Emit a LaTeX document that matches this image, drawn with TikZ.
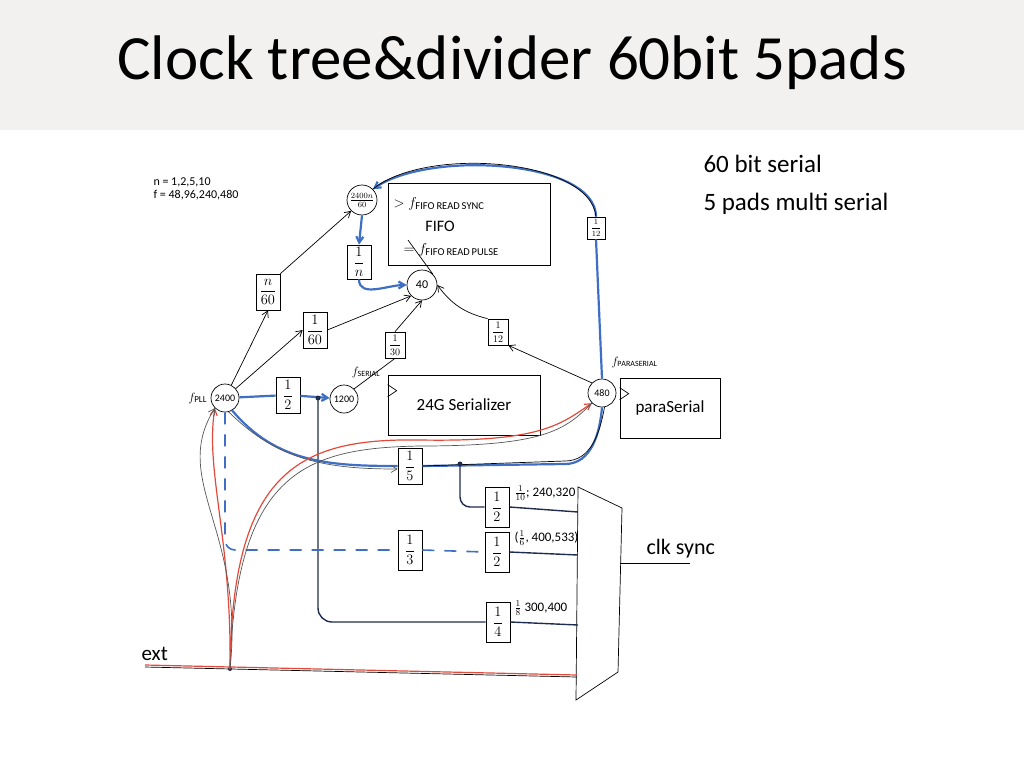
\documentclass[tikz,border=0pt]{standalone}
\usepackage{amsmath}
\usepackage{fontspec}
\setmainfont{Carlito}
\usepackage{tikz}
\usetikzlibrary{arrows.meta}
\definecolor{titlegray}{HTML}{F3F1EF}
\definecolor{penblue}{HTML}{3F6FC4}
\definecolor{penred}{HTML}{E2493B}
\definecolor{pennavy}{HTML}{1E2C50}
\definecolor{pengray}{HTML}{555555}

\begin{document}
\begin{tikzpicture}[x=1pt,y=-1pt,
    divbox/.style={draw,line width=0.7pt,inner sep=1pt,minimum width=24pt,minimum height=36pt,font=\fontsize{14}{15}\selectfont},
    smallbox/.style={divbox,minimum width=20pt,minimum height=26pt,font=\fontsize{10}{11}\selectfont},
    freq/.style={draw,circle,line width=0.7pt,inner sep=0pt,minimum size=28pt,font=\fontsize{10}{11}\selectfont},
    block/.style={draw,line width=0.7pt,font=\fontsize{17}{18}\selectfont},
    thin/.style={line width=0.7pt},
    tip/.style={-{Straight Barb[length=6pt,width=7pt]}},
    bluepen/.style={line width=2.2pt,penblue},
    navypen/.style={line width=1.4pt,pennavy},
    redpen/.style={line width=1.2pt,penred},
    graypen/.style={line width=0.7pt,pengray},
    note/.style={font=\fontsize{12}{13}\selectfont,align=left}]
  % background and title
  \fill[titlegray] (0,0) rectangle (1024,130);
  \useasboundingbox (0,0) rectangle (1024,768);
  \node[font=\fontsize{63}{70}\selectfont] (title) at (512,63) {Clock tree\&divider 60bit 5pads};

  % notes
  \node[note,anchor=north west] (params) at (150,174) {n = 1,2,5,10\\f = 48,96,240,480};
  \node[font=\fontsize{25}{38}\selectfont,align=left,anchor=north west] (remark) at (700,152) {60 bit serial\\5 pads multi serial};

  % frequency points
  \node[freq] (pll) at (225,398) {2400};
  \node[freq] (ser) at (344,399) {1200};
  \node[freq] (para) at (602,393) {480};
  \node[freq,minimum size=30pt,font=\fontsize{12}{13}\selectfont] (rdclk) at (362,200) {$\frac{2400n}{60}$};
  \node[freq,minimum size=30pt,font=\fontsize{12}{13}\selectfont] (rd) at (422,285) {40};
  \node[anchor=east,font=\fontsize{13}{14}\selectfont] (fpll) at (pll.west) {$f_{\mathrm{PLL}}$};
  \node[font=\fontsize{12}{13}\selectfont] (fser) at (366,372) {$f_{\mathrm{SERIAL}}$};
  \node[font=\fontsize{12}{13}\selectfont,anchor=west] (fpara) at (608,362) {$f_{\mathrm{PARASERIAL}}$};

  % blocks
  \node[block,minimum width=162pt,minimum height=82pt] (fifo) at (469,224) {};
  \node[font=\fontsize{15}{16}\selectfont,anchor=west] (fsync) at (390,204) {$>f_{\mathrm{FIFO\,READ\,SYNC}}$};
  \node[font=\fontsize{16}{17}\selectfont] (fifotxt) at (440,226) {FIFO};
  \node[font=\fontsize{15}{16}\selectfont,anchor=west] (fpulse) at (400,250) {$=f_{\mathrm{FIFO\,READ\,PULSE}}$};
  \node[block,minimum width=152pt,minimum height=60pt] (serdes) at (464,405) {24G Serializer};
  \node[block,minimum width=100pt,minimum height=60pt] (ps) at (670,408) {paraSerial};
  \draw[thin] ([yshift=-10pt]serdes.north west) -- ++(9,6) -- ++(-9,6);
  \draw[thin] ([yshift=-10pt]ps.north west) -- ++(9,6) -- ++(-9,6);

  % dividers
  \node[divbox] (dn60) at (268,292) {$\dfrac{n}{60}$};
  \node[divbox] (d60) at (315,330) {$\dfrac{1}{60}$};
  \node[smallbox] (d30) at (395,345) {$\dfrac{1}{30}$};
  \node[smallbox] (d12) at (498,332) {$\dfrac{1}{12}$};
  \node[divbox,minimum height=34pt] (dn) at (359,262) {$\dfrac{1}{n}$};
  \node[divbox] (dhalf) at (288,395) {$\dfrac{1}{2}$};
  \node[divbox] (dfive) at (410,466) {$\dfrac{1}{5}$};
  \node[smallbox,minimum width=18pt,minimum height=22pt,font=\fontsize{8}{9}\selectfont] (dtop) at (596,228) {$\dfrac{1}{12}$};
  \node[divbox,minimum height=40pt] (dsyncA) at (497,507) {$\dfrac{1}{2}$};
  \node[divbox,minimum height=40pt] (dthree) at (410,550) {$\dfrac{1}{3}$};
  \node[divbox,minimum height=40pt] (dsyncB) at (497,552) {$\dfrac{1}{2}$};
  \node[divbox,minimum height=40pt] (dfour) at (498,622) {$\dfrac{1}{4}$};

  % multiplexer
  \draw[thin] (578,487) -- (622,508) -- (618,672) -- (576,700) -- cycle;
  \coordinate (muxA) at (578,512);
  \coordinate (muxB) at (578,555);
  \coordinate (muxC) at (578,625);
  \coordinate (muxE) at (577,677);
  \coordinate (muxout) at (620,563);
  \coordinate (syncend) at (690,563);
  \node[font=\fontsize{22}{24}\selectfont,anchor=south west] (clksync) at (643,562) {clk sync};
  \draw[thin] (muxout) -- (syncend);
  \node[font=\fontsize{13}{14}\selectfont,anchor=south west] (rateA) at (511,504) {$\frac{1}{10}$; 240,320};
  \node[font=\fontsize{13}{14}\selectfont,anchor=south west] (rateB) at (511,549) {($\frac{1}{6}$, 400,533)};
  \node[font=\fontsize{13}{14}\selectfont,anchor=south west] (rateC) at (511,619) {$\frac{1}{8}$ 300,400};
  \draw[navypen] (dsyncA.east) -- (muxA);
  \draw[navypen] (dsyncB.east) -- (muxB);
  \draw[navypen] (dfour.east) -- (muxC);

  % black tree
  \draw[thin,tip] (pll) -- (dn60.south);
  \draw[thin,tip] (dn60.north east) -- (rdclk.south west);
  \draw[thin,tip] (pll) -- (d60.west);
  \draw[thin,tip] (d60.east) -- (rd.south west);
  \draw[thin,tip] (d30.north) -- (rd.south);
  \draw[thin,tip] (d12.north west) to[bend left=20] (rd.east);
  \draw[thin,tip] (para.north west) -- (d12.south east);
  \draw[thin] (ser.north east) -- (d30.south);
  \draw[thin] (rd.north east) -- ([xshift=8pt]fpulse.north west);

  % blue tree
  \draw[bluepen] (pll) -- (dhalf);
  \draw[bluepen,tip] (dhalf) -- (ser);
  \coordinate (jser) at (318,398);
  \fill[pennavy] (jser) circle (2.5pt);
  \draw[navypen,rounded corners=14pt] (jser) |- (dfour.west);
  \draw[bluepen] (pll.-60) to[out=-50,in=180] (dfive.west);
  \draw[graypen,tip] (pll.-75) to[out=-45,in=180] ([yshift=-3pt]dfive.west);
  \draw[bluepen] (dfive.east) -- (565,464) to[out=0,in=-95] (para.south);
  \draw[thin] (dfive.east) -- (565,461) to[out=0,in=-100] (para.-80);
  \coordinate (jfive) at (460,464);
  \fill[pennavy] (jfive) circle (2.5pt);
  \draw[navypen,rounded corners=10pt] (jfive) |- (dsyncA.west);
  \draw[penblue,line width=1.6pt,dash pattern=on 12pt off 10pt,rounded corners=10pt] (pll.south) |- (dthree.west);
  \draw[penblue,line width=1.6pt,dash pattern=on 12pt off 10pt] (dthree.east) -- (dsyncB.west);
  \draw[bluepen,tip] (rdclk.south) -- (dn.north);
  \draw[bluepen,tip] (dn.south) to[out=-90,in=180] (rd.west);

  % feedback to FIFO clock
  \draw[bluepen] (para.north) -- (dtop.south);
  \draw[bluepen,tip] (dtop.north) .. controls (596,160) and (430,150) .. (rdclk.north east);
  \draw[thin] (dtop.north) .. controls (590,158) and (425,146) .. (rdclk.north east);

  % external clock
  \coordinate (extin) at (145,667);
  \coordinate (jext) at (230,669);
  \node[font=\fontsize{21}{22}\selectfont,anchor=south west] (ext) at (138,664) {ext};
  \draw[thin] (extin) -- (muxE);
  \draw[redpen] ([yshift=2pt]extin) -- ([yshift=2pt]muxE);
  \fill[pennavy] (jext) circle (2pt);
  \draw[redpen,tip] (jext) .. controls (232,470) and (300,438) .. (420,440) .. controls (540,442) and (560,425) .. (para.south west);
  \draw[graypen] (jext) .. controls (236,472) and (305,448) .. (420,446) .. controls (545,446) and (565,430) .. (para.south west);
  \draw[redpen,tip] (jext) .. controls (232,540) and (205,470) .. (pll.south west);
  \draw[graypen,tip] (jext) .. controls (245,530) and (170,480) .. (pll.south west);
\end{tikzpicture}
\end{document}
